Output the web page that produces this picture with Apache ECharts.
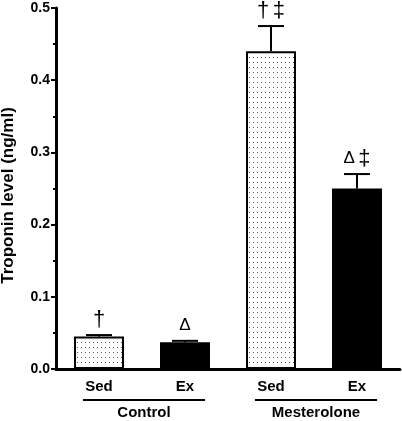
<!DOCTYPE html>
<html><head><meta charset="utf-8">
<script src="https://cdn.jsdelivr.net/npm/echarts@6/dist/echarts.min.js"></script>
<style>html,body{margin:0;padding:0;background:#fff}#c{width:402px;height:421px}</style>
</head><body><div id="c"></div>
<script>
const categories = ['Sed', 'Ex', 'Sed', 'Ex'];
const means = [0.045, 0.037, 0.44, 0.25];
const errors = [0.002, 0.002, 0.035, 0.02];
const marks = [['dag'], ['del'], ['dag', 'ddag'], ['del', 'ddag']];
const groups = ['Control', 'Mesterolone'];
const groupStart = [0, 2];
const groupEnd = [1, 3];
const yMin = 0, yMax = 0.5, yStep = 0.1;

const SYM = {dag: '\u2020', ddag: '\u2021', del: '\u0394'};
const FONT = 'Arial, "Liberation Sans", sans-serif';
const pc = document.createElement('canvas');
pc.width = 4; pc.height = 5;
const g = pc.getContext('2d');
g.fillStyle = '#fff'; g.fillRect(0, 0, 4, 5);
g.fillStyle = '#555'; g.fillRect(1, 2, 1, 1);

const chart = echarts.init(document.getElementById('c'), null, {renderer: 'canvas'});
chart.setOption({
  animation: false,
  backgroundColor: '#fff',
  grid: {left: 56, right: 2, top: 8, bottom: 52, containLabel: false, outerBoundsMode: 'none'},
  xAxis: {
    type: 'category', data: categories,
    axisLine: {lineStyle: {color: '#000', width: 3}},
    axisTick: {show: false},
    axisLabel: {color: '#000', fontWeight: 'bold', fontSize: 15, fontFamily: FONT, margin: 10}
  },
  yAxis: {
    type: 'value', min: yMin, max: yMax, interval: yStep,
    name: 'Troponin level (ng/ml)', nameLocation: 'middle', nameGap: 39,
    nameTextStyle: {color: '#000', fontWeight: 'bold', fontSize: 17, fontFamily: FONT, padding: [0, 14, 0, 0]},
    axisLine: {show: true, lineStyle: {color: '#000', width: 3}},
    axisTick: {show: true, length: 5, lineStyle: {color: '#000', width: 2}},
    minorTick: {show: true, splitNumber: 2, length: 3, lineStyle: {color: '#000', width: 2}},
    splitLine: {show: false},
    axisLabel: {color: '#000', fontWeight: 'bold', fontSize: 14, fontFamily: FONT, margin: 6,
      formatter: v => v.toFixed(1)}
  },
  series: [
    {
      type: 'bar', barWidth: 50,
      data: means.map((m, i) => ({
        value: m,
        itemStyle: categories[i] === 'Sed'
          ? {color: {image: pc, repeat: 'repeat'}, borderColor: '#000', borderWidth: 2}
          : {color: '#000', borderColor: '#000', borderWidth: 2}
      }))
    },
    {
      type: 'custom', z: 5, clip: false,
      data: means.map((m, i) => [i, m, errors[i]]),
      renderItem: function (params, api) {
        const i = api.value(0), m = api.value(1), e = api.value(2);
        const top = api.coord([i, m]);
        const cap = api.coord([i, m + e]);
        const x = top[0];
        const txt = marks[params.dataIndex].map(k => '{' + k + '|' + SYM[k] + '}').join('{sp| }');
        return {type: 'group', children: [
          {type: 'line', shape: {x1: x, y1: top[1], x2: x, y2: cap[1]}, style: {stroke: '#000', lineWidth: 2}},
          {type: 'line', shape: {x1: x - 13, y1: cap[1], x2: x + 13, y2: cap[1]}, style: {stroke: '#000', lineWidth: 2}},
          {type: 'text', x: x, y: cap[1] - 4, style: {text: txt, align: 'center', verticalAlign: 'bottom',
            fill: '#000',
            rich: {
              dag: {fontSize: 22, fontFamily: FONT, fill: '#000', verticalAlign: 'bottom'},
              ddag: {fontSize: 22, fontFamily: FONT, fill: '#000', verticalAlign: 'bottom'},
              del: {fontSize: 17, fontFamily: FONT, fill: '#000', verticalAlign: 'bottom', padding: [0, 0, 3, 0]},
              sp: {fontSize: 12, fontFamily: FONT}
            }}}
        ]};
      }
    },
    {
      type: 'custom', clip: false,
      data: groups.map((n, k) => [groupStart[k], 0, groupEnd[k]]),
      renderItem: function (params, api) {
        const a = api.coord([api.value(0), 0]);
        const b = api.coord([api.value(2), 0]);
        const y = a[1] + 31;
        return {type: 'group', children: [
          {type: 'line', shape: {x1: a[0] - 16, y1: y, x2: b[0] + 20, y2: y}, style: {stroke: '#000', lineWidth: 2}},
          {type: 'text', x: (a[0] + b[0]) / 2 + 2, y: y + 13, style: {text: groups[params.dataIndex], align: 'center', verticalAlign: 'middle',
            fontSize: 15, fontWeight: 'bold', fontFamily: FONT, fill: '#000'}}
        ]};
      }
    }
  ]
});
</script></body></html>
